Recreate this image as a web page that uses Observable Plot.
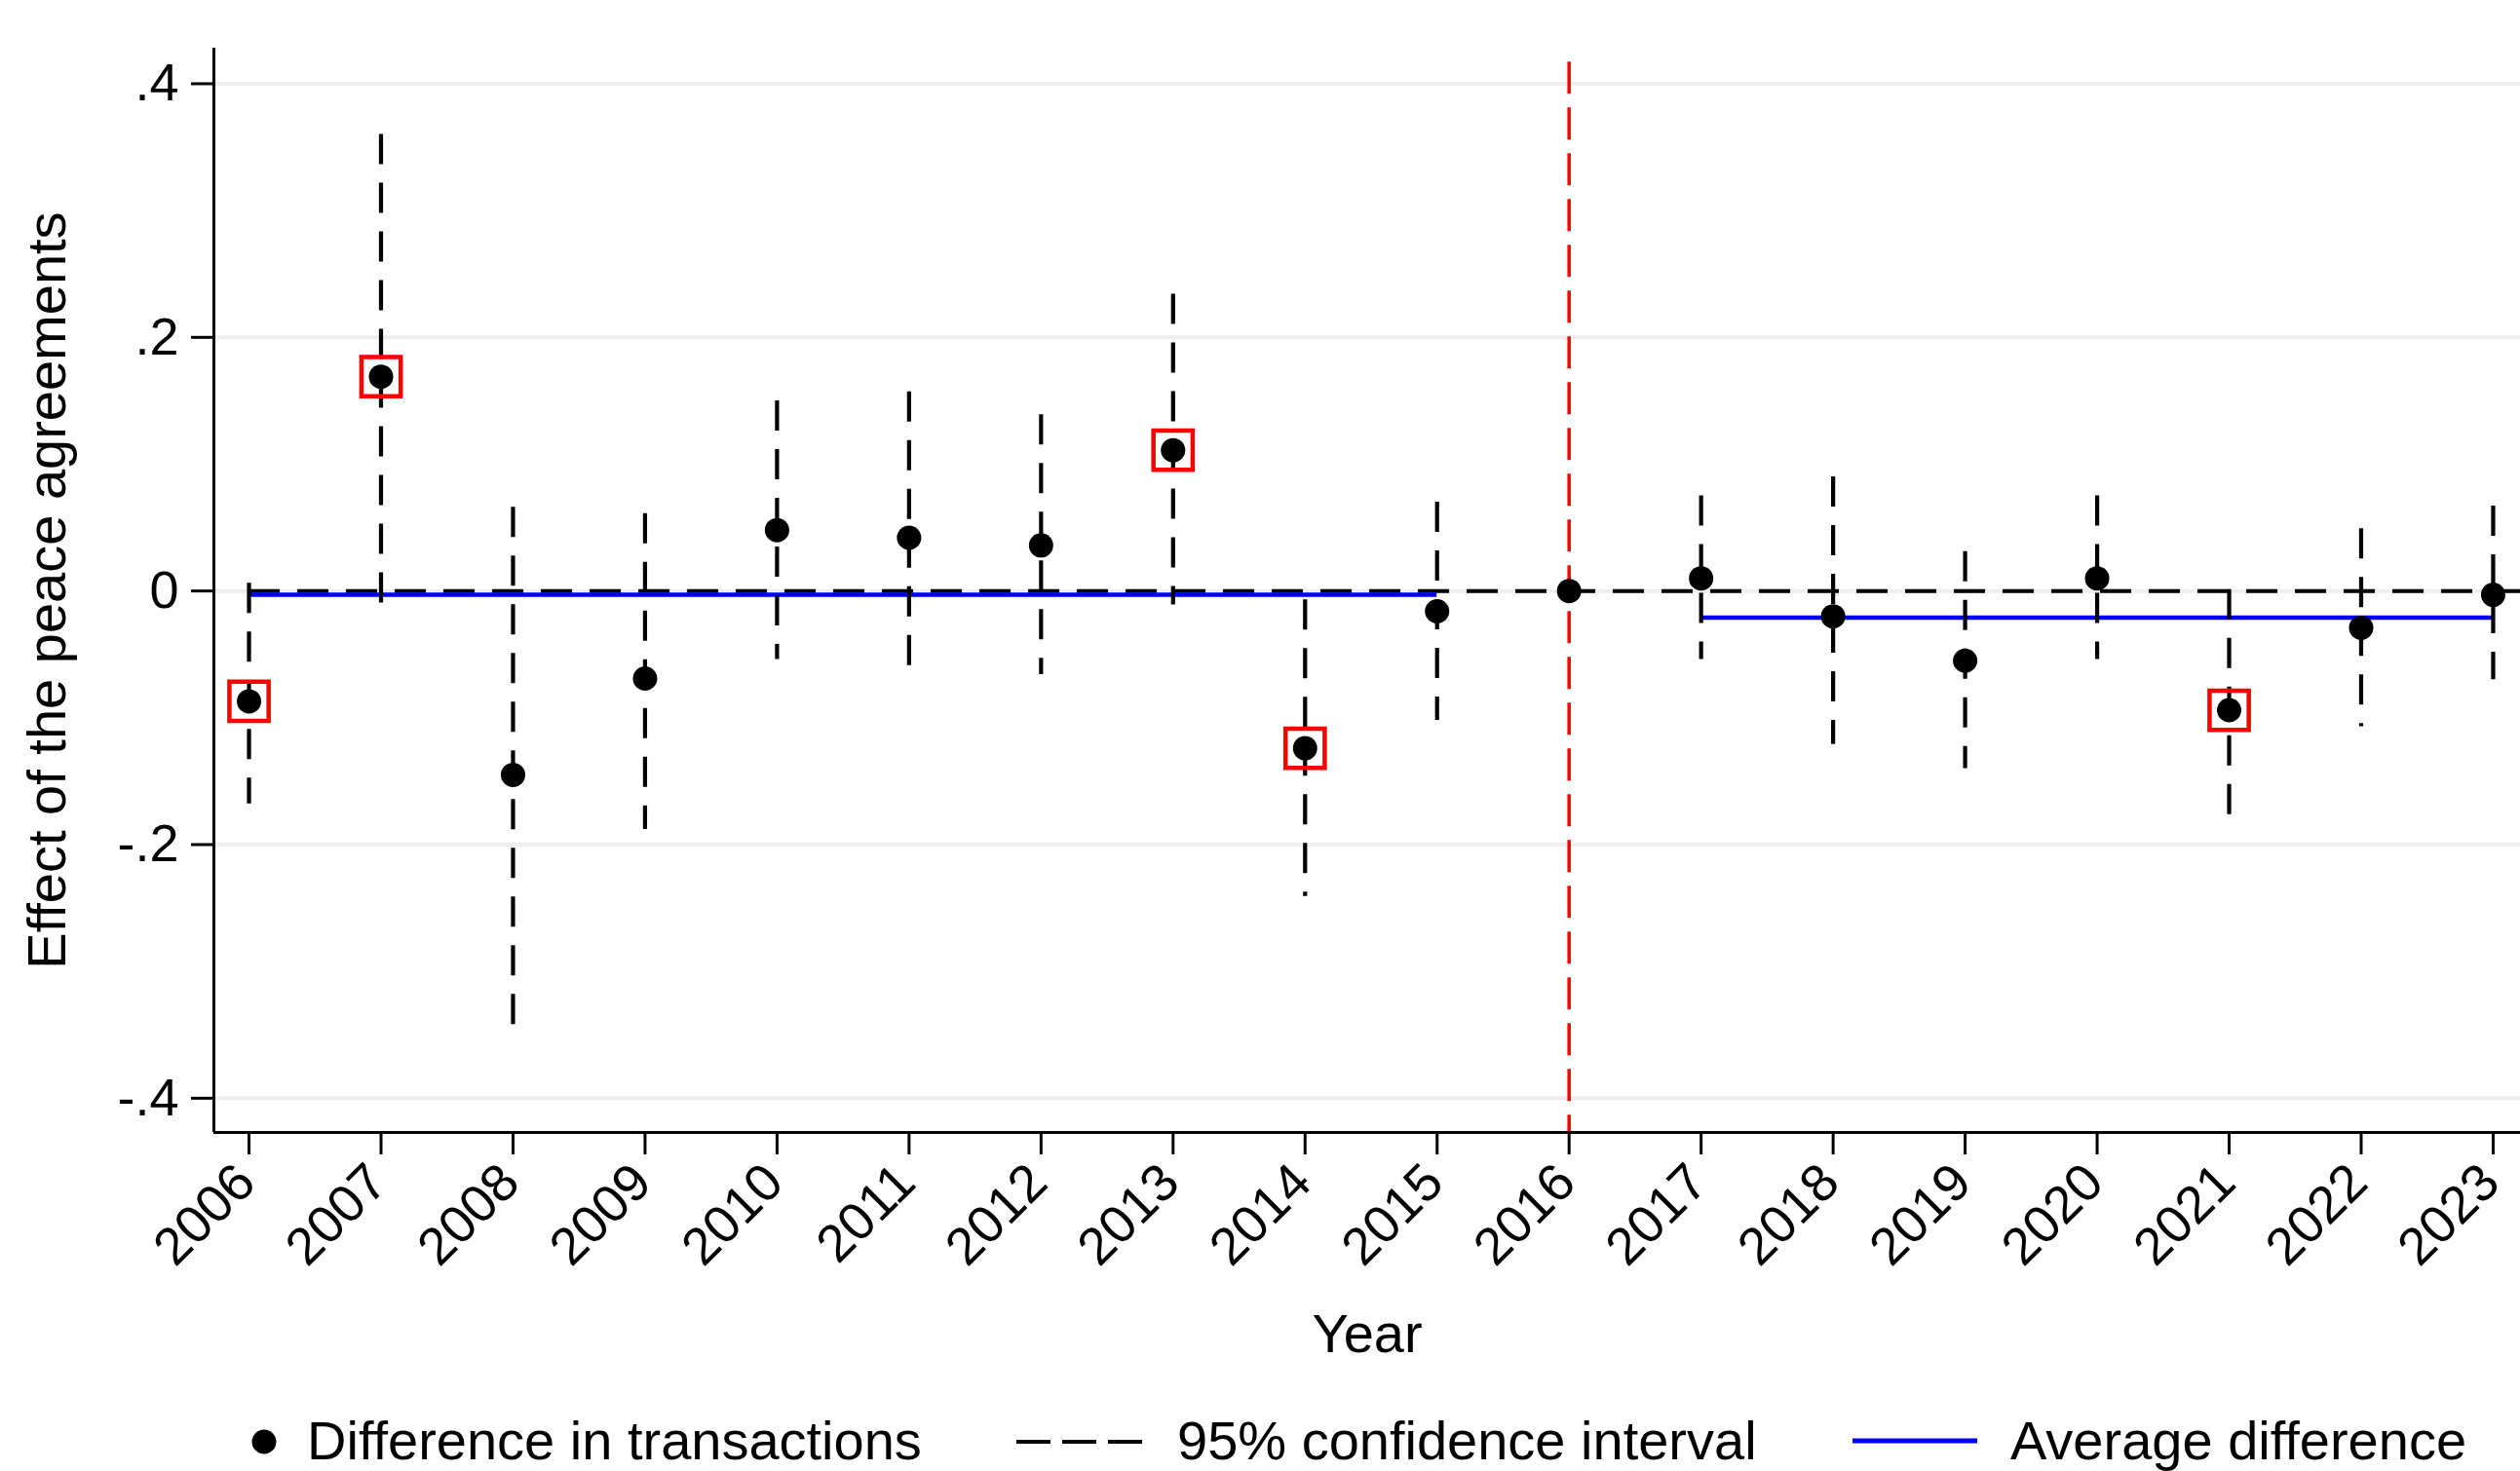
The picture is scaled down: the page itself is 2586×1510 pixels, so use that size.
<!DOCTYPE html>
<html>
<head>
<meta charset="utf-8">
<script src="https://cdn.jsdelivr.net/npm/d3@7"></script>
<script src="https://cdn.jsdelivr.net/npm/@observablehq/plot@0.6"></script>
<style>
  html, body { margin: 0; padding: 0; background: #fff; }
  #wrap { width: 2586px; font-family: "Liberation Sans", Arial, sans-serif; }
  #legend { display: block; }
</style>
</head>
<body>
<div id="wrap"></div>
<script>
// ---- data ----
const years = [2006, 2007, 2008, 2009, 2010, 2011, 2012, 2013, 2014, 2015, 2016, 2017, 2018, 2019, 2020, 2021, 2022, 2023];
const coef   = [-0.087, 0.169, -0.145, -0.069, 0.048, 0.042, 0.036, 0.111, -0.124, -0.016, 0.000, 0.010, -0.020, -0.055, 0.010, -0.094, -0.029, -0.003];
const ciLow  = [-0.168, -0.022, -0.354, -0.188, -0.054, -0.073, -0.066, -0.011, -0.241, -0.102, null, -0.054, -0.121, -0.140, -0.054, -0.188, -0.107, -0.070];
const ciHigh = [0.006, 0.360, 0.066, 0.061, 0.150, 0.157, 0.139, 0.234, -0.007, 0.070, null, 0.075, 0.090, 0.031, 0.075, 0.001, 0.049, 0.067];
const highlighted = [2006, 2007, 2013, 2014, 2021];
const avgStart = [2006, 2017];
const avgEnd   = [2015, 2023];
const avgValue = [-0.003, -0.021];
const treatmentYear = 2016;
const zeroLineStart = 2006;
const yTicks = [0.4, 0.2, 0, -0.2, -0.4];
const yTickLabels = [".4", ".2", "0", "-.2", "-.4"];
const yLabel = "Effect of the peace agreements";
const xLabel = "Year";
const legendLabels = ["Difference in transactions", "95% confidence interval", "Average difference"];

// ---- scales ----
const xMin = 2005.734, xMax = 2023.207;
const yMin = -0.427, yMax = 0.428;
const redLineTop = 0.417;

const rows = years.map((year, i) => ({year, coef: coef[i], lo: ciLow[i], hi: ciHigh[i]}));
const ciRows = rows.filter(r => r.lo != null);
const hiRows = rows.filter(r => highlighted.includes(r.year));

const font = "'Liberation Sans', Arial, sans-serif";

const chart = Plot.plot({
  width: 2586,
  height: 1430,
  marginLeft: 219,
  marginRight: 0,
  marginTop: 49,
  marginBottom: 268,
  x: {domain: [xMin, xMax]},
  y: {domain: [yMin, yMax]},
  style: {fontFamily: font, background: "#fff", color: "#000"},
  marks: [
    // gridlines
    Plot.ruleY(yTicks, {stroke: "#eeeeee", strokeWidth: 4}),
    // zero reference dashed line
    Plot.ruleY([0], {x1: () => zeroLineStart, x2: () => xMax, stroke: "#000", strokeWidth: 4, strokeDasharray: "32,18"}),
    // average difference lines
    Plot.ruleY(avgValue, {y: d => d, x1: (d, i) => avgStart[i], x2: (d, i) => avgEnd[i], stroke: "#0000ff", strokeWidth: 4.5}),
    // confidence intervals
    Plot.ruleX(ciRows, {x: "year", y1: "hi", y2: "lo", stroke: "#000", strokeWidth: 4.2, strokeDasharray: "31,19"}),
    // treatment year
    Plot.ruleX([treatmentYear], {x: d => d, y1: () => redLineTop, y2: () => yMin, stroke: "#ff0000", strokeWidth: 3.5, strokeDasharray: "33,14"}),
    // point estimates
    Plot.dot(rows, {x: "year", y: "coef", r: 12.5, fill: "#000"}),
    // highlighted boxes
    Plot.dot(hiRows, {x: "year", y: "coef", symbol: "square", r: 22.7, fill: "none", stroke: "#ff0000", strokeWidth: 4.5}),
    // axes lines
    Plot.ruleX([xMin], {x: d => d, stroke: "#000", strokeWidth: 3}),
    Plot.ruleY([yMin], {y: d => d, stroke: "#000", strokeWidth: 3}),
    // y axis
    Plot.axisY({ticks: yTicks, tickFormat: d => yTickLabels[yTicks.indexOf(d)], tickSize: 23, tickPadding: 13, fontSize: 54, strokeWidth: 3, label: null}),
    // x axis ticks
    Plot.axisX({ticks: years, tickSize: 23, tickFormat: () => "", strokeWidth: 3, label: null}),
    // x tick labels rotated
    Plot.text(years, {x: d => d, frameAnchor: "bottom", text: d => String(d), rotate: -45, textAnchor: "end", lineAnchor: "middle", dy: 42, dx: -3, fontSize: 54, fill: "#000"}),
    // axis titles
    Plot.text([yLabel], {frameAnchor: "left", rotate: -90, dx: -170, fontSize: 56, fill: "#000", textAnchor: "middle", lineAnchor: "middle"}),
    Plot.text([xLabel], {frameAnchor: "bottom", dy: 208, fontSize: 56, fill: "#000", lineAnchor: "middle"})
  ]
});

const wrap = document.getElementById("wrap");
wrap.appendChild(chart);

// ---- legend below the chart ----
const ns = "http://www.w3.org/2000/svg";
const leg = document.createElementNS(ns, "svg");
leg.setAttribute("id", "legend");
leg.setAttribute("width", 2586);
leg.setAttribute("height", 80);
leg.style.fontFamily = font;
function el(tag, attrs, text) {
  const e = document.createElementNS(ns, tag);
  for (const k in attrs) e.setAttribute(k, attrs[k]);
  if (text != null) e.textContent = text;
  leg.appendChild(e);
  return e;
}
el("circle", {cx: 271, cy: 50, r: 12.5, fill: "#000"});
el("text", {x: 315, y: 68, "font-size": 56, fill: "#000"}, legendLabels[0]);
el("line", {x1: 1043, x2: 1173, y1: 50, y2: 50, stroke: "#000", "stroke-width": 4, "stroke-dasharray": "35,12"});
el("text", {x: 1208, y: 68, "font-size": 56, fill: "#000"}, legendLabels[1]);
el("line", {x1: 1901, x2: 2029, y1: 49, y2: 49, stroke: "#0000ff", "stroke-width": 5});
el("text", {x: 2063, y: 68, "font-size": 56, fill: "#000"}, legendLabels[2]);
wrap.appendChild(leg);
</script>
</body>
</html>
